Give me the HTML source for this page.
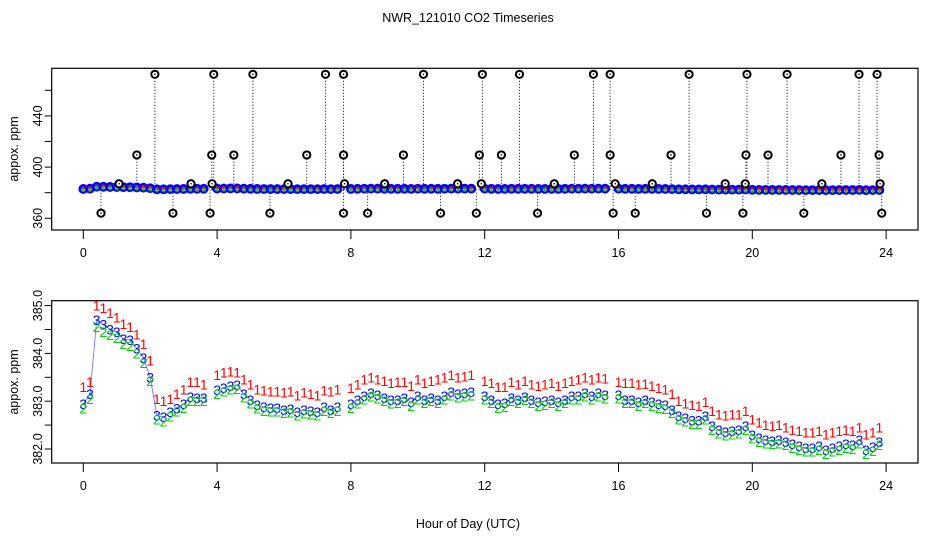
<!DOCTYPE html>
<html><head><meta charset="utf-8"><style>
body{margin:0;background:#fff}
svg text{font-family:"Liberation Sans",sans-serif}
</style></head><body>
<svg id="chart" width="936" height="540" viewBox="0 0 936 540" xmlns="http://www.w3.org/2000/svg">
<rect width="936" height="540" fill="#fff"/>
<text x="468" y="22" font-size="12.5" text-anchor="middle">NWR_121010  CO2 Timeseries</text>
<text x="468" y="528" font-size="12.5" text-anchor="middle">Hour of Day (UTC)</text>
<g id="topPanel"></g>
<g id="botPanel"></g>
</svg>
<script>
const hours = [];
for (let i = 0; i < 120; i++) hours.push(+(i * 0.2).toFixed(1));
const blueVals = [382.94,383.15,384.70,384.60,384.50,384.45,384.30,384.28,384.10,383.90,383.50,382.70,382.67,382.77,382.85,382.94,383.09,383.07,383.07,null,
383.23,383.28,383.32,383.34,383.15,383.03,382.92,382.88,382.86,382.86,382.82,382.84,382.77,382.82,382.80,382.77,382.88,382.82,382.88,null,
382.94,383.03,383.11,383.17,383.13,383.07,383.03,383.03,383.07,382.98,383.11,383.03,383.07,383.03,383.11,383.19,383.15,383.17,383.19,null,
383.11,383.03,382.94,382.96,383.07,383.03,383.09,383.03,382.98,383.00,383.03,382.98,383.03,383.11,383.11,383.17,383.11,383.17,383.13,null,
383.13,383.03,383.03,382.98,383.03,382.98,382.94,382.92,382.82,382.69,382.65,382.60,382.60,382.69,382.48,382.40,382.36,382.38,382.40,382.48,
382.29,382.23,382.19,382.17,382.19,382.15,382.10,382.06,382.02,382.02,382.06,381.98,382.02,382.06,382.10,382.08,382.19,381.98,382.04,382.15];
const redVals = [383.30,383.40,385.00,384.95,384.85,384.75,384.62,384.55,384.40,384.20,383.85,383.05,383.00,383.05,383.15,383.25,383.40,383.40,383.35,null,
383.55,383.60,383.62,383.60,383.45,383.35,383.25,383.22,383.20,383.20,383.18,383.20,383.12,383.18,383.15,383.12,383.22,383.20,383.25,null,
383.28,383.35,383.45,383.50,383.45,383.42,383.38,383.40,383.40,383.32,383.45,383.38,383.42,383.45,383.50,383.55,383.50,383.52,383.55,null,
383.42,383.38,383.30,383.30,383.40,383.35,383.42,383.35,383.32,383.35,383.38,383.32,383.38,383.42,383.45,383.50,383.45,383.50,383.48,null,
383.40,383.38,383.38,383.35,383.36,383.32,383.28,383.25,383.15,383.00,382.95,382.92,382.90,382.98,382.80,382.72,382.70,382.72,382.72,382.80,
382.62,382.55,382.50,382.48,382.50,382.45,382.40,382.38,382.35,382.35,382.38,382.30,382.35,382.38,382.40,382.38,382.45,382.30,382.35,382.45];
const greenVals = [382.85,383.05,384.55,384.45,384.38,384.32,384.20,384.15,384.00,383.80,383.42,382.62,382.58,382.68,382.78,382.86,383.00,383.00,383.00,null,
383.15,383.20,383.25,383.26,383.08,382.95,382.85,382.80,382.78,382.78,382.75,382.76,382.70,382.74,382.72,382.70,382.80,382.75,382.80,null,
382.86,382.95,383.04,383.10,383.06,383.00,382.95,382.96,383.00,382.90,383.04,382.96,383.00,382.96,383.04,383.12,383.08,383.10,383.12,null,
383.04,382.96,382.86,382.88,383.00,382.96,383.02,382.96,382.90,382.92,382.96,382.90,382.96,383.04,383.04,383.10,383.04,383.10,383.06,null,
383.06,382.96,382.96,382.90,382.96,382.90,382.86,382.84,382.75,382.62,382.58,382.52,382.52,382.62,382.40,382.32,382.28,382.30,382.32,382.40,
382.22,382.15,382.12,382.10,382.12,382.08,382.02,381.98,381.95,381.95,381.98,381.90,381.95,381.98,382.02,382.00,382.12,381.90,381.96,382.08];
const spikeHours = [2.14,3.90,5.07,7.24,7.78,10.17,11.93,13.04,15.25,15.75,18.11,19.84,21.04,23.19,23.73,
1.60,3.84,4.50,6.68,7.78,9.57,11.84,12.50,14.68,15.75,17.57,19.81,20.47,22.65,23.79,
0.53,2.68,3.79,5.58,7.78,8.50,10.68,11.75,13.58,15.84,16.50,18.63,19.72,21.54,23.87,
1.07,3.22,3.85,6.12,7.81,9.01,11.19,11.90,14.08,15.90,17.01,19.19,19.79,22.08,23.82];
const spikeVals = [472.5,472.5,472.5,472.5,472.5,472.5,472.5,472.5,472.5,472.5,472.5,472.5,472.5,472.5,472.5,
409.5,409.5,409.5,409.5,409.5,409.5,409.5,409.5,409.5,409.5,409.5,409.5,409.5,409.5,409.5,
364,364,364,364,364,364,364,364,364,364,364,364,364,364,364,
387,387,387,387,387,387,387,387,387,387,387,387,387,387,387];
const topTicks = [360,380,400,420,440,460];
const topLabels = ["360","","400","","440",""];
const botTicks = [382,382.5,383,383.5,384,384.5,385];
const botLabels = ["382.0","","383.0","","384.0","","385.0"];
const xTicks = [0,4,8,12,16,20,24];

const NS = "http://www.w3.org/2000/svg";
function mk(parent, tag, attrs, txt){const e=document.createElementNS(NS,tag);for(const k in attrs)e.setAttribute(k,attrs[k]);if(txt!==undefined)e.textContent=txt;parent.appendChild(e);return e;}
const X = h => 83.3 + h * 33.45;
const Yt = v => 218.3 - (v - 360) * 1.28;
const Yb = v => 449 - (v - 382) * 47.8;
const L = 51.7, R = 918;

function frame(g, y0, y1, ticks, labels, Y, cy, name){
  const r = mk(g,'rect',{x:L,y:y0,width:R-L,height:y1-y0,fill:'none',stroke:'#000','stroke-width':1.2});
  
  
  ticks.forEach((t,i)=>{
    const y = Y(t);
    mk(g,'line',{x1:L-7,x2:L,y1:y,y2:y,stroke:'#000'});
    if(labels[i]){
      const tx = mk(g,'text',{x:38,y:y,'font-size':12.5,'text-anchor':'middle',transform:`rotate(-90 38 ${y})`,'dominant-baseline':'central'},labels[i]);
      
      
    }
  });
  xTicks.forEach(h=>{
    mk(g,'line',{x1:X(h),x2:X(h),y1:y1,y2:y1+9,stroke:'#000'});
    const tx = mk(g,'text',{x:X(h),y:y1+27,'font-size':12.5,'text-anchor':'middle'},String(h));
    
    
  });
  const yl = mk(g,'text',{x:14,y:cy,'font-size':12.5,'text-anchor':'middle',transform:`rotate(-90 14 ${cy})`,'dominant-baseline':'central'},'appox. ppm');
  
  
}

const topG = document.getElementById('topPanel');
frame(topG, 68.3, 230, topTicks, topLabels, Yt, 149, 'top');
spikeHours.forEach((h,i)=>{
  const ln = mk(topG,'line',{x1:X(h),x2:X(h),y1:Yt(382.3),y2:Yt(spikeVals[i]),stroke:'#000','stroke-dasharray':'1 2'});
  
  
});
hours.forEach((h,i)=>{
  if(redVals[i]==null) return;
  mk(topG,'rect',{x:X(h)-3,y:Yt(redVals[i])-2,width:6,height:3,fill:'#f00'});
});
hours.forEach((h,i)=>{
  if(blueVals[i]==null) return;
  const c = mk(topG,'circle',{cx:X(h),cy:Yt(blueVals[i]),r:3.6,fill:'none',stroke:'#00f','stroke-width':2.6});
  
  
});
hours.forEach((h,i)=>{
  if(greenVals[i]==null) return;
  mk(topG,'rect',{x:X(h)-1,y:Yt(greenVals[i])-1,width:2,height:4,fill:'#0c0'});
});
spikeHours.forEach((h,i)=>{
  const c = mk(topG,'circle',{cx:X(h),cy:Yt(spikeVals[i]),r:3.6,fill:'#fff',stroke:'#000','stroke-width':2});
  
  
  mk(topG,'rect',{x:X(h)-0.7,y:Yt(spikeVals[i])-0.7,width:1.4,height:1.4,fill:'#000'});
});

const botG = document.getElementById('botPanel');
frame(botG, 300.7, 463, botTicks, botLabels, Yb, 382, 'bottom');
function series(vals, ch, color, name, drawLine){
  if(drawLine){
    let d='', pen=false;
    hours.forEach((h,i)=>{
      if(vals[i]==null){pen=false;return;}
      d += (pen?'L':'M') + X(h).toFixed(1) + ' ' + Yb(vals[i]).toFixed(1) + ' ';
      pen=true;
    });
    const p = mk(botG,'path',{d:d,fill:'none',stroke:color,'stroke-width':0.8,opacity:0.6});
    
    
  }
  hours.forEach((h,i)=>{
    if(vals[i]==null) return;
    const t = mk(botG,'text',{x:X(h),y:Yb(vals[i]),'font-size':14,fill:color,'text-anchor':'middle','dominant-baseline':'central'},ch);
    
    
  });
}
series(blueVals,'3','#00f','blue-series',true);
series(greenVals,'2','#0c0','green-series',false);
series(redVals,'1','#f00','red-series',false);
</script>
</body></html>
